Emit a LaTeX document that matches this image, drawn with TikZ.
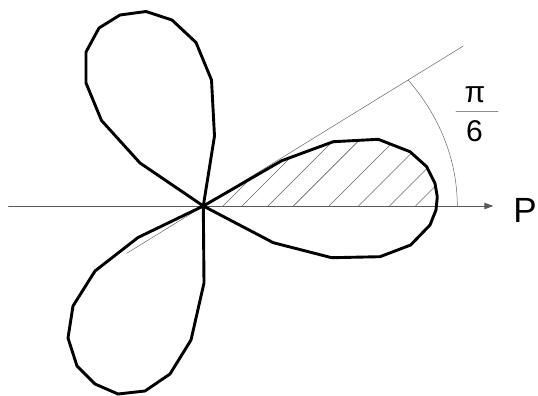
\documentclass[tikz,border=0pt]{standalone}
\usepackage{fontspec}
\setmainfont{Liberation Sans}
\usetikzlibrary{arrows.meta}

\tikzset{
  petal/.style={line width=2.9pt, black},
  hatch/.style={line width=0.6pt, black!60},
  thin ray/.style={line width=0.5pt, black!60},
  axis/.style={line width=1pt, black!65, -{Triangle[length=9pt,width=6.5pt]}},
  lbl/.style={inner sep=0pt, font=\fontsize{30}{36}\selectfont}
}

\begin{document}
\begin{tikzpicture}[line cap=round, line join=round, x=1pt, y=-1pt]
  \useasboundingbox (0,0) rectangle (538,396);
  \coordinate (O) at (203.3,206);

  \path[save path=\petalR] (O) -- (281.7,160.7) -- (333.3,141.7) -- (378.3,139.3) -- (389,143.5)
    -- (410,151.7) -- (426.7,166.7) -- (435,183.3) -- (437.3,197) -- (436,210) -- (430,225)
    -- (410.7,245) -- (380,256.7) -- (331.7,257.7) -- (273.3,242.7) -- cycle;

  % hatching of the upper half
  \begin{scope}
    \clip (0,0) rectangle (538,206);
    \clip[use path=\petalR];
    \foreach \hx in {223,242,268,293.4,329,358.5,389.5,415.5} {
      \draw[hatch] (\hx,206) -- ++(100,-100);
    }
  \end{scope}

  \draw[thin ray] (126.7,253.3) -- (463.3,46);
  \draw[thin ray] plot[domain=0:36.2, samples=40] ({203.3+254*cos(\x)},{206-213*sin(\x)}); % angle
  \draw[axis] (8.6,206) -- (493.3,206);

  \draw[petal, use path=\petalR];
  \draw[petal] (O) -- (214.5,136) -- (211.5,80) -- (196,42.5) -- (172,20) -- (146,11.5) -- (120,15)
    -- (99,28) -- (86,52) -- (86,83) -- (101.5,120.5) -- (140,163) -- cycle;
  \draw[petal] (O) -- (204,283) -- (191,340) -- (170,374) -- (145,391) -- (118,394) -- (95,384)
    -- (77,366) -- (68,338) -- (73,306) -- (95,271) -- (138,237.5) -- cycle;

  \node[lbl] (pi) at (475,95) {π};
  \draw[line width=0.8pt, black!45] (456,111) -- (498,111);                 % fraction bar
  \node[lbl] (six) at (474.5,131) {6};
  \node[lbl, font=\fontsize{35}{42}\selectfont] (P) at (525,210.5) {P};
\end{tikzpicture}
\end{document}
